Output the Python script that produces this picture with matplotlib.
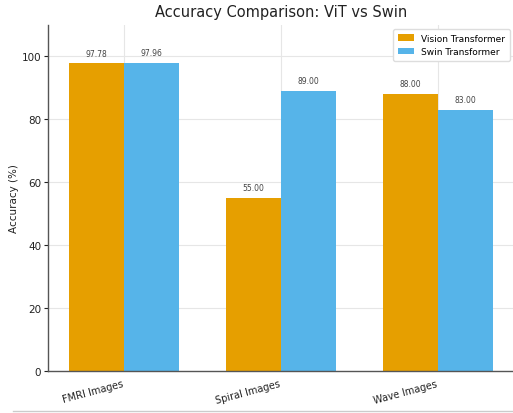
import matplotlib
matplotlib.use("Agg")
import matplotlib.pyplot as plt
import numpy as np
from matplotlib.lines import Line2D

categories = ["FMRI Images", "Spiral Images", "Wave Images"]
vit_acc = [97.78, 55.00, 88.00]
swin_acc = [97.96, 89.00, 83.00]

VIT_COLOR = "#E69F00"
SWIN_COLOR = "#56B4E9"

fig = plt.figure(figsize=(5.13, 4.14), dpi=100)
ax = fig.add_axes([0.094, 0.101, 0.908, 0.837])

x = np.arange(len(categories))
width = 0.35
b1 = ax.bar(x - width / 2, vit_acc, width, color=VIT_COLOR, label="Vision Transformer", zorder=2)
b2 = ax.bar(x + width / 2, swin_acc, width, color=SWIN_COLOR, label="Swin Transformer", zorder=2)

for bars in (b1, b2):
    for bar in bars:
        h = bar.get_height()
        ax.annotate(f"{h:.2f}", (bar.get_x() + bar.get_width() / 2, h),
                    xytext=(0, 4), textcoords="offset points",
                    ha="center", va="bottom", fontsize=5.5, color="#444444")

ax.set_ylim(0, 110)
ax.set_yticks([0, 20, 40, 60, 80, 100])
ax.set_xticks(x)
ax.set_xticklabels(categories, rotation=15, ha="right", fontsize=7, color="#222222")
ax.tick_params(axis="y", labelsize=7.5, colors="#222222", length=3, pad=2)
ax.tick_params(axis="x", length=0, pad=5)
ax.set_ylabel("Accuracy (%)", fontsize=7.5, color="#222222", labelpad=2)
ax.set_title("Accuracy Comparison: ViT vs Swin", fontsize=10.5, color="#222222", pad=6)

ax.grid(True, color="#e6e6e6", linewidth=0.8, zorder=0)
ax.set_axisbelow(True)
for side in ("top", "right"):
    ax.spines[side].set_visible(False)
for side in ("left", "bottom"):
    ax.spines[side].set_color("#555555")
    ax.spines[side].set_linewidth(1.0)

ax.legend(loc="upper right", fontsize=6.5, frameon=True, framealpha=1,
          edgecolor="#dddddd", borderpad=0.5, handlelength=1.8)

fig.add_artist(Line2D([0.025, 1.0], [0.005, 0.005], color="#cccccc", linewidth=1.0))

fig.savefig("out.png", dpi=100)
